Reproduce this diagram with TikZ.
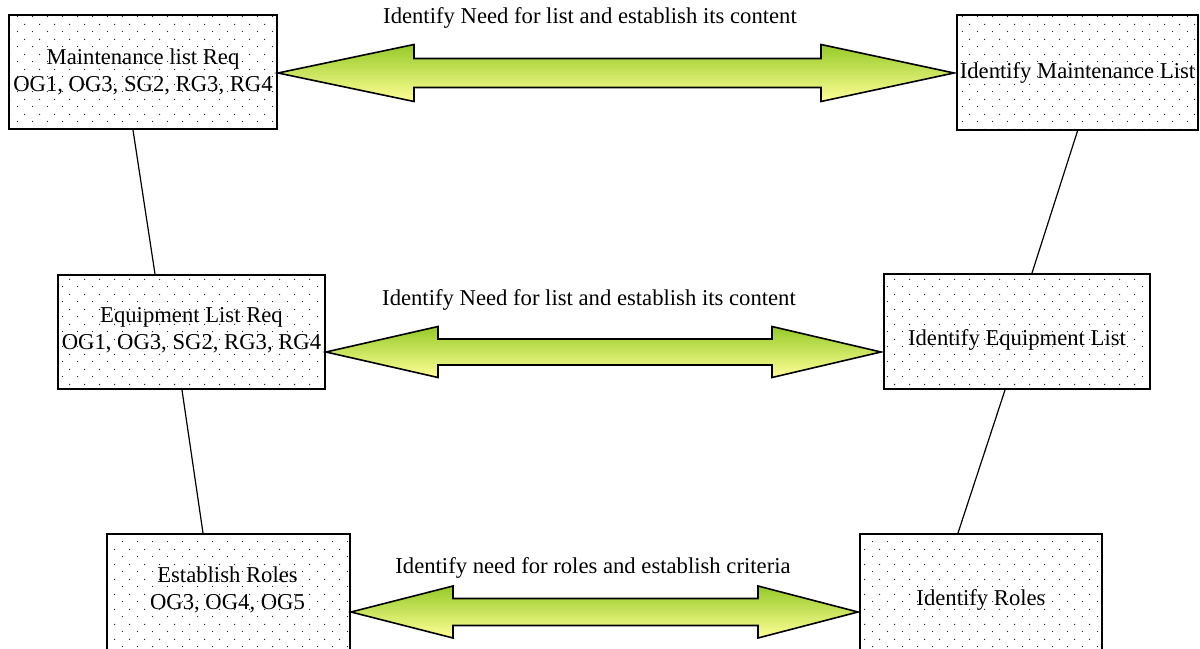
\documentclass[tikz,border=0pt]{standalone}
\usepackage{fontspec}
\setmainfont{Liberation Serif}
\usetikzlibrary{calc,patterns}
\pgfdeclarepatternformonly{wdots}{\pgfpointorigin}{\pgfpoint{11.25pt}{11.25pt}}{\pgfpoint{11.25pt}{11.25pt}}{%
  \pgfpathcircle{\pgfpoint{2pt}{2pt}}{0.55pt}%
  \pgfpathcircle{\pgfpoint{7.625pt}{7.625pt}}{0.55pt}%
  \pgfusepath{fill}}
\definecolor{agreen}{RGB}{150,202,40}
\definecolor{ayellow}{RGB}{255,255,150}
\tikzset{
  box/.style={draw=black, line width=1.5pt, rectangle, inner sep=0pt,
    preaction={fill=white}, pattern=wdots, pattern color=black!85},
  txt/.style={inner sep=0pt, align=center, font=\fontsize{17}{20.25}\selectfont},
  link/.style={draw=black, line width=0.9pt},
  arrowfill/.style={draw=black, line width=1.2pt, line join=miter, top color=agreen, bottom color=ayellow}
}
% #1 left tip, #2 right tip, #3 left head length, #4 right head length, #5 head half height, #6 shaft half height
\newcommand\dblarrow[6]{%
  \path[arrowfill] (#1) -- ++(#3,-#5) -- ++(0,{#5-#6}) -- ($(#2)+(-#4,-#6)$) -- ++(0,{-(#5-#6)})
    -- (#2) -- ++(-#4,#5) -- ++(0,{-(#5-#6)}) -- ($(#1)+(#3,#6)$) -- ++(0,{#5-#6}) -- cycle;}
\begin{document}
\begin{tikzpicture}[x=0.75pt,y=-0.75pt]
\useasboundingbox (0,0) rectangle (1200,649);
\clip (0,0) rectangle (1200,649);
% boxes
\node[box, minimum width=268*0.75pt, minimum height=114*0.75pt] (b1) at (143,72) {};
\node[box, minimum width=241*0.75pt, minimum height=115*0.75pt] (b2) at (1077.5,72.5) {};
\node[box, minimum width=267*0.75pt, minimum height=114*0.75pt] (b3) at (191.5,332) {};
\node[box, minimum width=266*0.75pt, minimum height=115*0.75pt] (b4) at (1017,331.5) {};
\node[box, minimum width=243*0.75pt, minimum height=132*0.75pt] (b5) at (228.5,600) {};
\node[box, minimum width=242*0.75pt, minimum height=132*0.75pt] (b6) at (981,600) {};
% box texts
\node[txt] (t1) at ($(b1.center)+(0,0)$) {Maintenance list Req\\OG1, OG3, SG2, RG3, RG4};
\node[txt] (t2) at ($(b2.center)+(0,0)$) {Identify Maintenance List};
\node[txt] (t3) at ($(b3.center)+(0,-2)$) {Equipment List Req\\OG1, OG3, SG2, RG3, RG4};
\node[txt] (t4) at ($(b4.center)+(0,8)$) {Identify Equipment List};
\node[txt] (t5) at ($(b5.center)+(-1,-10)$) {Establish Roles\\OG3, OG4, OG5};
\node[txt] (t6) at ($(b6.center)+(0,0)$) {Identify Roles};
% connectors
\draw[link] ($(b1.south)+(-10,0)$) -- ($(b3.north)+(-36.5,0)$);
\draw[link] ($(b3.south)+(-9.5,0)$) -- ($(b5.north)+(-25.5,0)$);
\draw[link] ($(b2.south)+(0,0)$) -- ($(b4.north)+(15,0)$);
\draw[link] ($(b4.south)+(-12,0)$) -- ($(b6.north)+(-23,0)$);
% double arrows
\coordinate (a1l) at ($(b1.east)+(0,1)$);
\coordinate (a1r) at ($(b2.west)+(-2,0.5)$);
\coordinate (a2l) at ($(b3.east)+(0,20)$);
\coordinate (a2r) at ($(b4.west)+(-2,20.5)$);
\coordinate (a3l) at ($(b5.east)+(0,12)$);
\coordinate (a3r) at ($(b6.west)+(-1,12)$);
\dblarrow{a1l}{a1r}{136}{133}{28.5}{14.5}
\dblarrow{a2l}{a2r}{112}{109}{25.5}{13}
\dblarrow{a3l}{a3r}{102}{100}{26}{13.5}
% arrow labels
\node[txt] (l1) at (590,18) {Identify Need for list and establish its content};
\node[txt] (l2) at (589,300) {Identify Need for list and establish its content};
\node[txt] (l3) at (593,568) {Identify need for roles and establish criteria};
\end{tikzpicture}
\end{document}
